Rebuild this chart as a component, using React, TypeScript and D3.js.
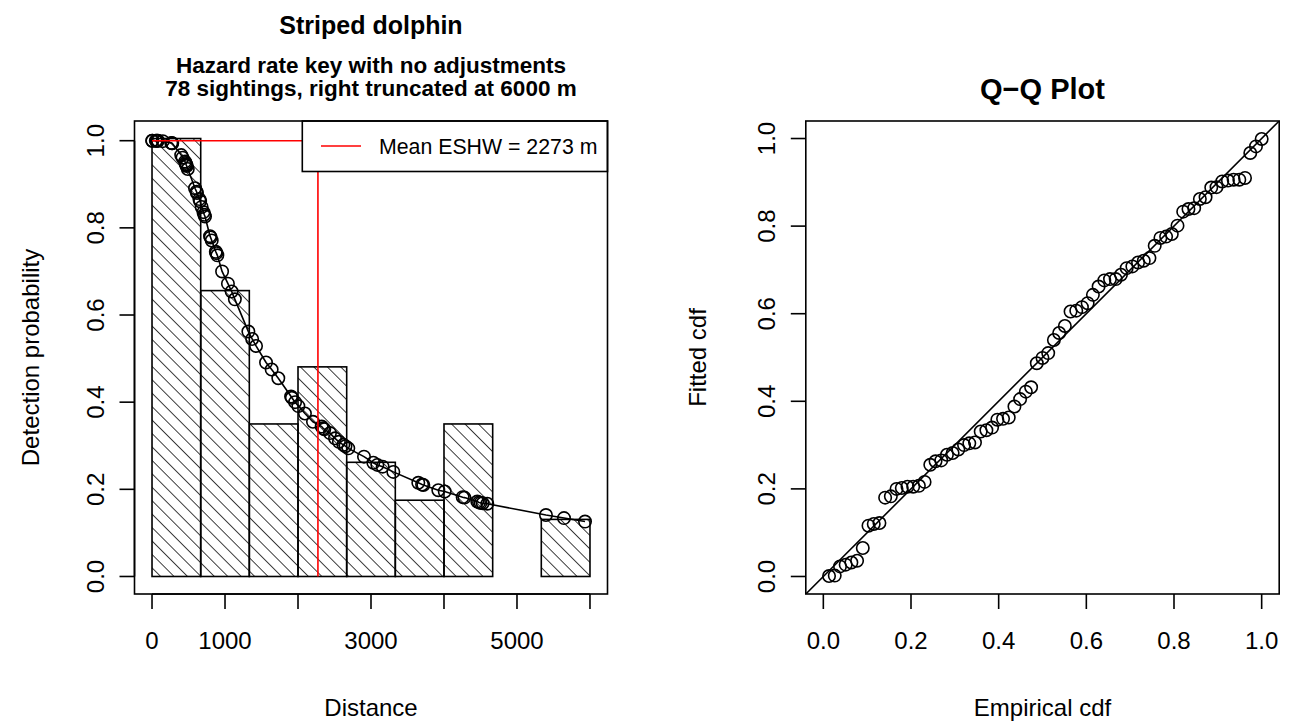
import React from "react";
import * as d3 from "d3";

// ---------- data ----------
const distances = [
  2, 5, 52, 61, 73, 82, 148, 264, 273, 277,
  400, 418, 452, 460, 466, 470, 475, 490,
  589, 610, 616, 649, 659, 680, 705, 716, 726,
  795, 803, 818, 874, 882, 895,
  960, 1040, 1091, 1135,
  1320, 1372, 1425, 1562, 1639, 1730,
  1905, 1916, 1960, 2005, 2095, 2205, 2324, 2345, 2360, 2438, 2507, 2560, 2621, 2650, 2689,
  2904, 3032, 3087, 3160, 3306,
  3648, 3700, 3717, 3922, 4010, 4256, 4280, 4456, 4480, 4502, 4530, 4593,
  5397, 5644, 5932,
];
const detectionProb = [
  1.0, 1.0, 1.0, 1.0, 1.0, 1.0, 0.999, 0.995, 0.994, 0.994,
  0.967, 0.961, 0.952, 0.949, 0.946, 0.944, 0.942, 0.935,
  0.891, 0.883, 0.88, 0.866, 0.861, 0.848, 0.836, 0.83, 0.826,
  0.781, 0.778, 0.771, 0.745, 0.742, 0.737,
  0.7, 0.672, 0.654, 0.636,
  0.562, 0.545, 0.529, 0.491, 0.475, 0.455,
  0.413, 0.41, 0.4, 0.391, 0.374, 0.355, 0.344, 0.34, 0.338, 0.329, 0.317, 0.309, 0.302, 0.299, 0.294,
  0.275, 0.261, 0.256, 0.252, 0.24,
  0.215, 0.211, 0.21, 0.198, 0.195, 0.182, 0.181, 0.172, 0.17, 0.169, 0.168, 0.167,
  0.141, 0.134, 0.126,
];
const binEdges = [0, 667, 1333, 2000, 2667, 3333, 4000, 4667, 5333, 6000];
const histHeights = [1.005, 0.656, 0.35, 0.481, 0.262, 0.175, 0.35, 0, 0.131];
const meanESHW = 2273;

const qqEmpirical = [
  0.013, 0.026, 0.038, 0.051, 0.064, 0.077, 0.09, 0.103, 0.115, 0.128,
  0.141, 0.154, 0.167, 0.179, 0.192, 0.205, 0.218, 0.231, 0.244, 0.256,
  0.269, 0.282, 0.295, 0.308, 0.321, 0.333, 0.346, 0.359, 0.372, 0.385,
  0.397, 0.41, 0.423, 0.436, 0.449, 0.462, 0.474, 0.487, 0.5, 0.513,
  0.526, 0.538, 0.551, 0.564, 0.577, 0.59, 0.603, 0.615, 0.628, 0.641,
  0.654, 0.667, 0.679, 0.692, 0.705, 0.718, 0.731, 0.744, 0.756, 0.769,
  0.782, 0.795, 0.808, 0.821, 0.833, 0.846, 0.859, 0.872, 0.885, 0.897,
  0.91, 0.923, 0.936, 0.949, 0.962, 0.974, 0.987, 1.0,
];
const qqFitted = [
  0.001, 0.002, 0.023, 0.027, 0.032, 0.036, 0.065, 0.116, 0.12, 0.122,
  0.18, 0.183, 0.2, 0.202, 0.205, 0.205, 0.207, 0.216, 0.255, 0.263,
  0.265, 0.278, 0.282, 0.29, 0.3, 0.304, 0.306, 0.331, 0.334, 0.34,
  0.358, 0.36, 0.363, 0.388, 0.405, 0.422, 0.432, 0.487, 0.499, 0.51,
  0.54, 0.556, 0.572, 0.605, 0.607, 0.615, 0.624, 0.643, 0.662, 0.676,
  0.679, 0.679, 0.689, 0.704, 0.708, 0.717, 0.721, 0.727, 0.755, 0.773,
  0.776, 0.782, 0.801, 0.833, 0.839, 0.841, 0.862, 0.866, 0.888, 0.889,
  0.902, 0.904, 0.906, 0.906, 0.91, 0.967, 0.982, 0.999,
];

const distTicks = [0, 1000, 2000, 3000, 4000, 5000, 6000];
const distTickLabels = ["0", "1000", "", "3000", "", "5000", ""];
const probTicks = [0, 0.2, 0.4, 0.6, 0.8, 1.0];
const probTickLabels = ["0.0", "0.2", "0.4", "0.6", "0.8", "1.0"];

const FONT = "'Liberation Sans', Arial, Helvetica, sans-serif";
const AX = 24; // axis font size
const LW = 1.6;
const TICK = 15;
const R = 6.2;

export default function App() {
  // left panel scales (R style 4% extension)
  const xL = d3.scaleLinear().domain([-240, 6240]).range([134.5, 607.5]);
  const yL = d3.scaleLinear().domain([-0.0402, 1.0452]).range([594, 121]);
  // right panel scales
  const xR = d3.scaleLinear().domain([-0.04, 1.04]).range([805.8, 1279.2]);
  const yR = d3.scaleLinear().domain([-0.04, 1.04]).range([594, 121]);

  const curve = d3
    .line<number>()
    .x((_, i) => xL(distances[i]))
    .y((d) => yL(d));

  const lBox = { x0: xL(-240), x1: xL(6240), y0: yL(1.0452), y1: yL(-0.0402) };
  const rBox = { x0: xR(-0.04), x1: xR(1.04), y0: yR(1.04), y1: yR(-0.04) };

  return (
    <svg
      width={1291}
      height={721}
      style={{ position: "absolute", left: 0, top: 0, background: "#fff" }}
      fontFamily={FONT}
    >
      <defs>
        <pattern
          id="hatch"
          patternUnits="userSpaceOnUse"
          width={9.5}
          height={9.5}
          patternTransform="rotate(-45)"
        >
          <line x1={0} y1={-1} x2={0} y2={11} stroke="#000" strokeWidth={1.5} />
        </pattern>
        <clipPath id="clipR">
          <rect x={rBox.x0} y={rBox.y0} width={rBox.x1 - rBox.x0} height={rBox.y1 - rBox.y0} />
        </clipPath>
      </defs>
      <rect x={0} y={0} width={1291} height={721} fill="#fff" />

      {/* ---------------- LEFT PANEL ---------------- */}
      <text x={(lBox.x0 + lBox.x1) / 2} y={34} textAnchor="middle" fontSize={25} fontWeight="bold">
        Striped dolphin
      </text>
      <text x={(lBox.x0 + lBox.x1) / 2} y={73} textAnchor="middle" fontSize={22.5} fontWeight="bold">
        Hazard rate key with no adjustments
      </text>
      <text x={(lBox.x0 + lBox.x1) / 2} y={96} textAnchor="middle" fontSize={22.5} fontWeight="bold">
        78 sightings, right truncated at 6000 m
      </text>

      {histHeights.map((h, i) => (
        <rect
          key={"bar" + i}
          x={xL(binEdges[i])}
          y={yL(h)}
          width={xL(binEdges[i + 1]) - xL(binEdges[i])}
          height={yL(0) - yL(h)}
          fill="url(#hatch)"
          stroke="#000"
          strokeWidth={LW}
        />
      ))}

      <path d={curve(detectionProb) || ""} fill="none" stroke="#000" strokeWidth={LW} />
      {distances.map((d, i) => (
        <circle
          key={"pt" + i}
          cx={xL(d)}
          cy={yL(detectionProb[i])}
          r={R}
          fill="none"
          stroke="#000"
          strokeWidth={LW}
        />
      ))}

      {/* mean ESHW lines */}
      <polyline
        points={`${xL(0)},${yL(1)} ${xL(meanESHW)},${yL(1)} ${xL(meanESHW)},${yL(0)}`}
        fill="none"
        stroke="#ff0000"
        strokeWidth={1.6}
      />

      {/* legend */}
      <rect x={302.3} y={lBox.y0} width={lBox.x1 - 302.3} height={50.5} fill="#fff" stroke="#000" strokeWidth={LW} />
      <line x1={321} x2={361} y1={146} y2={146} stroke="#ff0000" strokeWidth={1.6} />
      <text x={379} y={153.5} fontSize={21.3}>
        Mean ESHW = {meanESHW} m
      </text>

      <rect
        x={lBox.x0}
        y={lBox.y0}
        width={lBox.x1 - lBox.x0}
        height={lBox.y1 - lBox.y0}
        fill="none"
        stroke="#000"
        strokeWidth={LW}
      />

      {/* x axis */}
      <line x1={xL(0)} x2={xL(6000)} y1={lBox.y1} y2={lBox.y1} stroke="#000" strokeWidth={LW} />
      {distTicks.map((t, i) => (
        <g key={"xt" + i}>
          <line x1={xL(t)} x2={xL(t)} y1={lBox.y1} y2={lBox.y1 + TICK} stroke="#000" strokeWidth={LW} />
          {distTickLabels[i] && (
            <text x={xL(t)} y={649} textAnchor="middle" fontSize={AX}>
              {distTickLabels[i]}
            </text>
          )}
        </g>
      ))}
      <text x={(lBox.x0 + lBox.x1) / 2} y={716} textAnchor="middle" fontSize={AX}>
        Distance
      </text>

      {/* y axis */}
      <line x1={lBox.x0} x2={lBox.x0} y1={yL(0)} y2={yL(1)} stroke="#000" strokeWidth={LW} />
      {probTicks.map((t, i) => (
        <g key={"yt" + i}>
          <line x1={lBox.x0 - TICK} x2={lBox.x0} y1={yL(t)} y2={yL(t)} stroke="#000" strokeWidth={LW} />
          <text
            transform={`translate(${103.5},${yL(t)}) rotate(-90)`}
            textAnchor="middle"
            fontSize={AX}
          >
            {probTickLabels[i]}
          </text>
        </g>
      ))}
      <text
        transform={`translate(${39},${(lBox.y0 + lBox.y1) / 2}) rotate(-90)`}
        textAnchor="middle"
        fontSize={AX}
      >
        Detection probability
      </text>

      {/* ---------------- RIGHT PANEL ---------------- */}
      <text x={(rBox.x0 + rBox.x1) / 2} y={99} textAnchor="middle" fontSize={29} fontWeight="bold">
        Q−Q Plot
      </text>

      <line
        x1={xR(-0.04)}
        y1={yR(-0.04)}
        x2={xR(1.04)}
        y2={yR(1.04)}
        stroke="#000"
        strokeWidth={LW}
        clipPath="url(#clipR)"
      />
      {qqEmpirical.map((e, i) => (
        <circle
          key={"qq" + i}
          cx={xR(e)}
          cy={yR(qqFitted[i])}
          r={R}
          fill="none"
          stroke="#000"
          strokeWidth={LW}
        />
      ))}

      <rect
        x={rBox.x0}
        y={rBox.y0}
        width={rBox.x1 - rBox.x0}
        height={rBox.y1 - rBox.y0}
        fill="none"
        stroke="#000"
        strokeWidth={LW}
      />
      {probTicks.map((t, i) => (
        <g key={"rxt" + i}>
          <line x1={xR(t)} x2={xR(t)} y1={rBox.y1} y2={rBox.y1 + TICK} stroke="#000" strokeWidth={LW} />
          <text x={xR(t)} y={649} textAnchor="middle" fontSize={AX}>
            {probTickLabels[i]}
          </text>
        </g>
      ))}
      <text x={(rBox.x0 + rBox.x1) / 2} y={716} textAnchor="middle" fontSize={AX}>
        Empirical cdf
      </text>
      {probTicks.map((t, i) => (
        <g key={"ryt" + i}>
          <line x1={rBox.x0 - TICK} x2={rBox.x0} y1={yR(t)} y2={yR(t)} stroke="#000" strokeWidth={LW} />
          <text
            transform={`translate(${775},${yR(t)}) rotate(-90)`}
            textAnchor="middle"
            fontSize={AX}
          >
            {probTickLabels[i]}
          </text>
        </g>
      ))}
      <text
        transform={`translate(${706},${(rBox.y0 + rBox.y1) / 2}) rotate(-90)`}
        textAnchor="middle"
        fontSize={AX}
      >
        Fitted cdf
      </text>
    </svg>
  );
}
